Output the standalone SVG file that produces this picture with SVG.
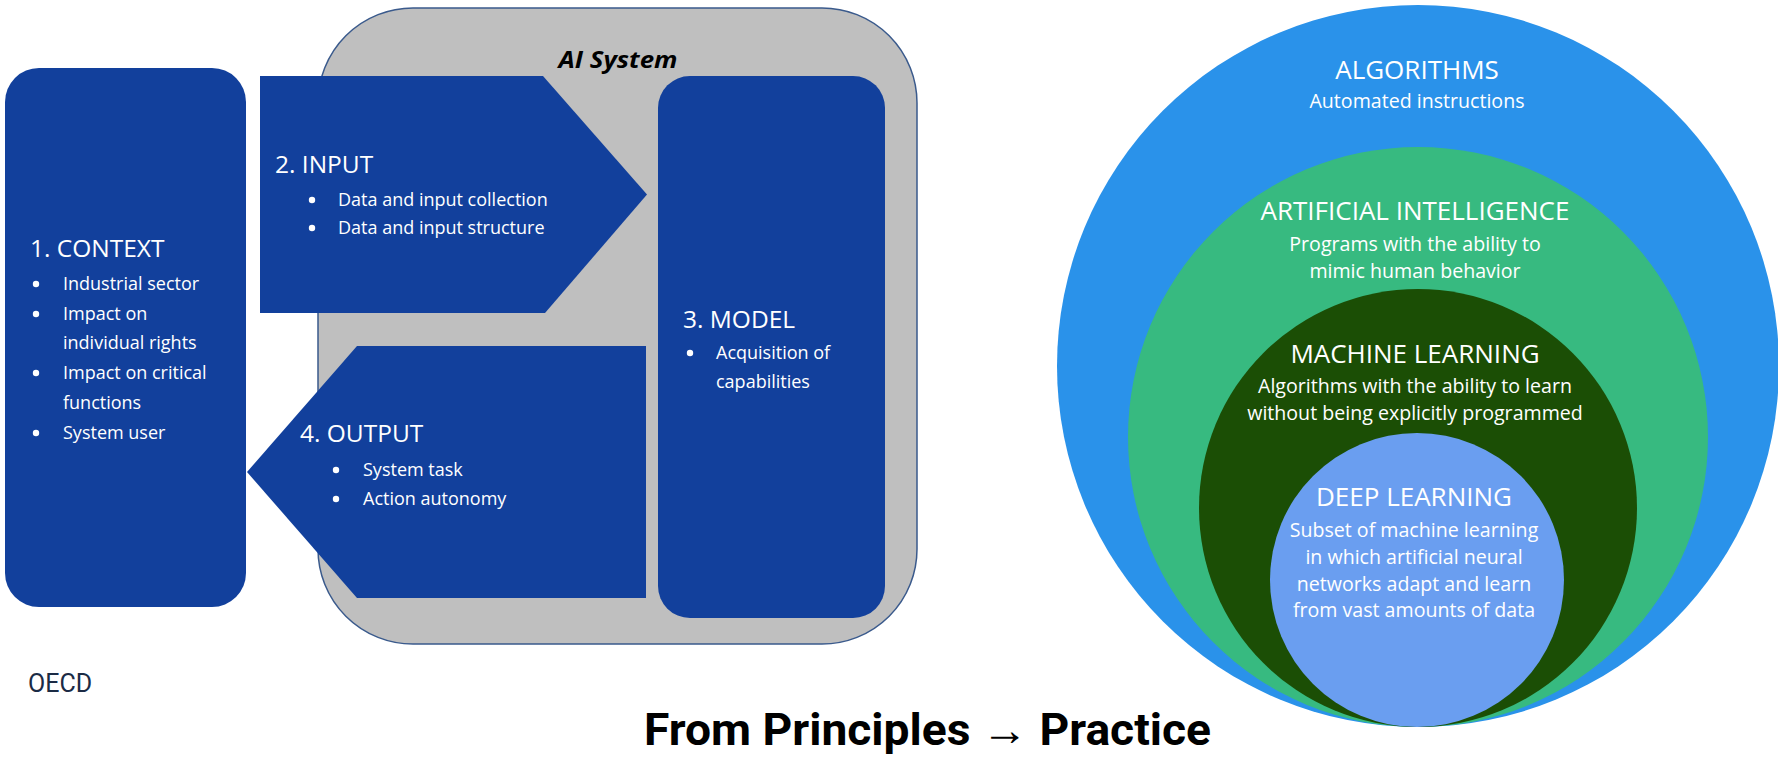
<svg xmlns="http://www.w3.org/2000/svg" width="1778" height="757" viewBox="0 0 1778 757">
<style>
  .node { fill: #12409C; }
  .head { font-family: "Open Sans", "Liberation Sans", sans-serif; font-size: 24.5px; fill: #ffffff; }
  .item { font-family: "Open Sans", "Liberation Sans", sans-serif; font-size: 18px; fill: #ffffff; }
  .dot { fill: #ffffff; }
  .ctitle { font-family: "Open Sans", "Liberation Sans", sans-serif; font-size: 26px; fill: #ffffff; text-anchor: middle; }
  .cbody { font-family: "Open Sans", "Liberation Sans", sans-serif; font-size: 19.6px; fill: #ffffff; text-anchor: middle; }
</style>
<rect x="0" y="0" width="1778" height="757" fill="#ffffff"/>

<g id="ai-system">
  <rect x="318" y="8" width="599" height="636" rx="95" ry="95" fill="#BFBFBF" stroke="#3A5A8C" stroke-width="1.5"/>
  <text x="618" y="68" text-anchor="middle" font-family="'Open Sans', 'Liberation Sans', sans-serif" font-size="23" font-weight="bold" font-style="italic" fill="#000000" textLength="119" lengthAdjust="spacingAndGlyphs">AI System</text>
</g>

<g id="context">
  <rect class="node" x="5" y="68" width="241" height="539" rx="34" ry="34"/>
  <text class="head" x="30" y="257">1. CONTEXT</text>
  <circle class="dot" cx="36" cy="284" r="3.2"/><text class="item" x="63" y="290">Industrial sector</text>
  <circle class="dot" cx="36" cy="314" r="3.2"/><text class="item" x="63" y="320">Impact on</text>
  <text class="item" x="63" y="349">individual rights</text>
  <circle class="dot" cx="36" cy="373" r="3.2"/><text class="item" x="63" y="379">Impact on critical</text>
  <text class="item" x="63" y="409">functions</text>
  <circle class="dot" cx="36" cy="433" r="3.2"/><text class="item" x="63" y="439">System user</text>
</g>

<g id="input">
  <polygon class="node" points="260,76 543,76 647,194.5 545,313 260,313"/>
  <text class="head" x="275" y="173">2. INPUT</text>
  <circle class="dot" cx="312" cy="200" r="3.2"/><text class="item" x="338" y="206">Data and input collection</text>
  <circle class="dot" cx="312" cy="228" r="3.2"/><text class="item" x="338" y="234">Data and input structure</text>
</g>

<g id="model">
  <rect class="node" x="658" y="76" width="227" height="542" rx="32" ry="32"/>
  <text class="head" x="683" y="328">3. MODEL</text>
  <circle class="dot" cx="690" cy="353" r="3.2"/><text class="item" x="716" y="359">Acquisition of</text>
  <text class="item" x="716" y="388">capabilities</text>
</g>

<g id="output">
  <polygon class="node" points="357,346 646,346 646,598 357,598 247,472"/>
  <text class="head" x="300" y="442">4. OUTPUT</text>
  <circle class="dot" cx="336" cy="470" r="3.2"/><text class="item" x="363" y="476">System task</text>
  <circle class="dot" cx="336" cy="499" r="3.2"/><text class="item" x="363" y="505">Action autonomy</text>
</g>

<g id="connectors"></g>

<g id="algorithms">
  <circle cx="1418" cy="366" r="361" fill="#2A92EA"/>
  <text class="ctitle" x="1417" y="79">ALGORITHMS</text>
  <text class="cbody" x="1417" y="108">Automated instructions</text>
</g>
<g id="artificial-intelligence">
  <circle cx="1418" cy="437" r="290" fill="#37BA80"/>
  <text class="ctitle" x="1415" y="220">ARTIFICIAL INTELLIGENCE</text>
  <text class="cbody" x="1415" y="251">Programs with the ability to</text>
  <text class="cbody" x="1415" y="278">mimic human behavior</text>
</g>
<g id="machine-learning">
  <circle cx="1418" cy="508" r="219" fill="#1B4E05"/>
  <text class="ctitle" x="1415" y="363">MACHINE LEARNING</text>
  <text class="cbody" x="1415" y="393">Algorithms with the ability to learn</text>
  <text class="cbody" x="1415" y="420">without being explicitly programmed</text>
</g>
<g id="deep-learning">
  <circle cx="1417" cy="580" r="147" fill="#6A9EF0"/>
  <text class="ctitle" x="1414" y="506">DEEP LEARNING</text>
  <text class="cbody" x="1414" y="537">Subset of machine learning</text>
  <text class="cbody" x="1414" y="564">in which artificial neural</text>
  <text class="cbody" x="1414" y="591">networks adapt and learn</text>
  <text class="cbody" x="1414" y="617">from vast amounts of data</text>
</g>

<g id="source">
  <text x="28" y="692" font-family="Roboto, 'Liberation Sans', sans-serif" font-size="25" fill="#1B2B45">OECD</text>
</g>
<g id="title">
  <text x="644" y="745" font-family="Roboto, 'Liberation Sans', sans-serif" font-size="45" font-weight="bold" fill="#000000" textLength="567" lengthAdjust="spacingAndGlyphs">From Principles → Practice</text>
</g>
</svg>
